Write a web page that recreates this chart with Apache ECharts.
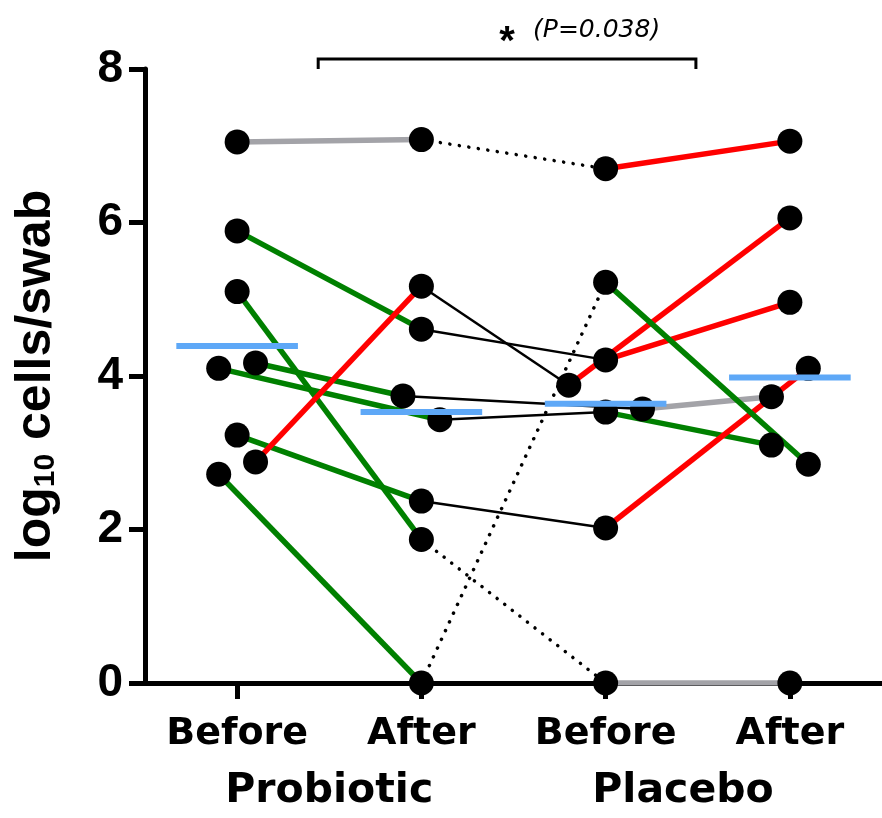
<!DOCTYPE html>
<html>
<head>
<meta charset="utf-8">
<script src="https://cdn.jsdelivr.net/npm/echarts@6/dist/echarts.min.js"></script>
<style>html,body{margin:0;padding:0;background:#fff;}#c{width:882px;height:818px;}</style>
</head>
<body>
<div id="c"></div>
<script>
// ---- data ----
const categories = ['Before', 'After', 'Before', 'After'];
const categoryPos = [0, 1, 2, 3];
const groups = ['Probiotic', 'Placebo'];
const groupPos = [0.5, 2.42];
const yTicks = [0, 2, 4, 6, 8];

// each index = one subject
const probBefore  = [7.05, 5.89, 5.10, 4.10, 4.17, 3.23, 2.88, 2.72];
const probBeforeX = [0, 0, 0, -0.1, 0.1, 0, 0.1, -0.1];
const probAfter   = [7.08, 4.61, 1.87, 3.43, 3.74, 2.37, 5.17, 0];
const probAfterX  = [1, 1, 1, 1.1, 0.9, 1, 1, 1];
const placBefore  = [6.70, 4.21, 0, 3.53, 3.57, 2.02, 3.88, 5.22];
const placBeforeX = [2, 2, 2, 2, 2.2, 2, 1.8, 2];
const placAfter   = [7.06, 4.96, 0, 3.10, 3.73, 4.10, 6.06, 2.85];
const placAfterX  = [3, 3, 3, 2.9, 2.9, 3.1, 3, 3.1];

// connection kinds per subject
const probKind  = ['grey', 'green', 'green', 'green', 'green', 'green', 'red', 'green'];
const crossKind = ['dotted', 'black', 'dotted', 'black', 'black', 'black', 'black', 'dotted'];
const placKind  = ['red', 'red', 'grey', 'green', 'grey', 'red', 'red', 'green'];

const means = [4.39, 3.53, 3.64, 3.98];
const bracket = [0.44, 2.49, 8.13, 8.0]; // x1, x2, yTop, yEnd
const sigStar = '*';
const sigText = '(P=0.038)';

// ---- styles ----
const kindStyle = {
  grey:   { color: '#a3a3a8', width: 5.5, type: 'solid' },
  green:  { color: '#008000', width: 5.5, type: 'solid' },
  red:    { color: '#ff0000', width: 5.5, type: 'solid' },
  black:  { color: '#000000', width: 2.5, type: 'solid' },
  dotted: { color: '#000000', width: 3.5, type: [0.1, 9.5], cap: 'round' }
};

const series = [];
function seg(x1, y1, x2, y2, kind) {
  series.push({
    type: 'line', data: [[x1, y1], [x2, y2]], symbol: 'none', silent: true,
    z: kind === 'dotted' || kind === 'black' ? 1 : 2,
    lineStyle: Object.assign({ opacity: 1 }, kindStyle[kind])
  });
}
for (let i = 0; i < probBefore.length; i++) {
  seg(probBeforeX[i], probBefore[i], probAfterX[i], probAfter[i], probKind[i]);
  seg(probAfterX[i], probAfter[i], placBeforeX[i], placBefore[i], crossKind[i]);
  seg(placBeforeX[i], placBefore[i], placAfterX[i], placAfter[i], placKind[i]);
}
const pts = [];
for (let i = 0; i < probBefore.length; i++) {
  pts.push([probBeforeX[i], probBefore[i]], [probAfterX[i], probAfter[i]],
           [placBeforeX[i], placBefore[i]], [placAfterX[i], placAfter[i]]);
}
series.push({
  type: 'scatter', data: pts, symbol: 'circle', symbolSize: 25, z: 5, silent: true,
  itemStyle: { color: '#000', opacity: 1 }
});
series.push({
  type: 'custom', z: 8, silent: true,
  data: means.map((m, i) => [categoryPos[i], m]),
  renderItem: function (params, api) {
    const x = api.value(0), y = api.value(1);
    const a = api.coord([x - 0.33, y]), b = api.coord([x + 0.33, y]);
    return { type: 'line', shape: { x1: a[0], y1: a[1], x2: b[0], y2: b[1] },
      style: { stroke: '#5ea8f7', lineWidth: 6 } };
  }
});
series.push({
  type: 'custom', z: 8, silent: true, clip: false,
  data: [bracket],
  renderItem: function (params, api) {
    const l = api.coord([api.value(0), api.value(2)]);
    const r = api.coord([api.value(1), api.value(2)]);
    const e = api.coord([api.value(0), api.value(3)]);
    const cx = (l[0] + r[0]) / 2;
    return { type: 'group', children: [
      { type: 'polyline', shape: { points: [[l[0], e[1]], l, r, [r[0], e[1]]] },
        style: { stroke: '#000', lineWidth: 3, fill: null } },
      { type: 'text', x: cx, y: l[1] - 16,
        style: { text: sigStar, font: 'bold 40px "Liberation Sans", Arial, sans-serif', fill: '#000',
                 align: 'center', verticalAlign: 'middle' } },
      { type: 'text', x: cx + 26, y: l[1] - 29,
        style: { text: sigText, font: 'italic 25px "DejaVu Sans", sans-serif', fill: '#000',
                 align: 'left', verticalAlign: 'middle' } }
    ]};
  }
});

const chart = echarts.init(document.getElementById('c'), null, { renderer: 'canvas' });
chart.setOption({
  animation: false,
  backgroundColor: '#fff',
  grid: { left: 145, right: -4, top: 69, bottom: 135, containLabel: false },
  xAxis: [{
    type: 'value', min: -0.5, max: 3.5,
    axisLine: { show: true, onZero: false, lineStyle: { color: '#000', width: 5 } },
    axisTick: { show: true, customValues: categoryPos, length: 16, lineStyle: { color: '#000', width: 5 } },
    axisLabel: { show: true, customValues: categoryPos, margin: 32,
      formatter: v => categories[categoryPos.indexOf(Math.round(v))] || '',
      color: '#000', fontFamily: '"DejaVu Sans", sans-serif', fontWeight: 'bold', fontSize: 38 },
    splitLine: { show: false }
  }, {
    type: 'value', min: -0.5, max: 3.5, position: 'bottom',
    axisLine: { show: false }, axisTick: { show: false }, splitLine: { show: false },
    axisLabel: { show: true, customValues: groupPos, margin: 88,
      formatter: v => { const i = groupPos.findIndex(g => Math.abs(g - v) < 1e-6); return i >= 0 ? groups[i] : ''; },
      color: '#000', fontFamily: '"DejaVu Sans", sans-serif', fontWeight: 'bold', fontSize: 41 }
  }],
  yAxis: {
    type: 'value', min: yTicks[0], max: yTicks[yTicks.length - 1], interval: 2,
    name: 'log{sub|10} cells/swab', nameLocation: 'middle', nameGap: 84,
    nameTextStyle: { color: '#000', fontFamily: '"Liberation Sans", Arial, sans-serif', fontWeight: 'bold', fontSize: 50,
      rich: { sub: { fontSize: 30, fontWeight: 'bold', fontFamily: '"Liberation Sans", Arial, sans-serif', color: '#000', verticalAlign: 'bottom', padding: [12, 0, 0, 0] } } },
    axisLine: { show: true, onZero: false, lineStyle: { color: '#000', width: 5 } },
    axisTick: { show: true, length: 16, lineStyle: { color: '#000', width: 5 } },
    axisLabel: { margin: 22, color: '#000', fontFamily: '"Liberation Sans", Arial, sans-serif', fontWeight: 'bold', fontSize: 46, padding: [0, 0, 6, 0] },
    splitLine: { show: false }
  },
  series: series
});
</script>
</body>
</html>
